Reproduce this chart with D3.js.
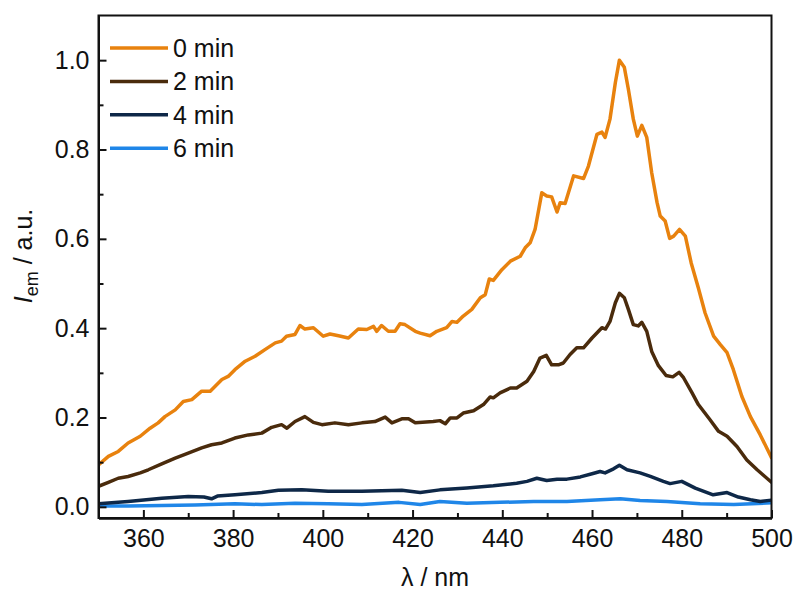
<!DOCTYPE html>
<html>
<head>
<meta charset="utf-8">
<script src="https://cdn.jsdelivr.net/npm/d3@7"></script>
<style>
  html, body { margin: 0; padding: 0; background: #fff; }
  svg { display: block; }
  text { font-family: "Liberation Sans", Arial, sans-serif; fill: #111; }
</style>
</head>
<body>
<svg id="chart" width="795" height="590"></svg>
<script>
// Emission spectra recorded after 0, 2, 4 and 6 min
const seriesNames = ["0 min", "2 min", "4 min", "6 min"];
const seriesColors = ["#E8820E", "#4A2B0C", "#0E2848", "#1F86E8"];

const wl0 = [350,352.2,354.4,356.6,359.3,361.5,363.3,364.8,367.1,368.9,370.8,373.0,374.9,377.5,378.9,380.4,382.7,384.9,387.1,389.4,390.8,391.9,393.8,394.9,396.0,397.9,400.1,401.6,403.5,405.7,407.9,409.8,411.3,412.0,413.1,414.6,416.1,417.2,418.3,420.6,421.7,423.9,425.4,427.6,428.8,429.9,431.3,433.2,435.1,436.2,437.1,438.0,439.9,441.8,444.0,445.1,446.2,447.3,448.8,449.9,451.0,452.2,452.9,454.0,455.9,458.1,459.2,461.1,462.2,462.9,464.0,465.2,466.1,467.2,468.1,469.2,470.1,471.1,472.2,473.3,474.5,475.2,476.3,477.3,478.2,479.5,480.8,482.1,483.7,485.2,487.1,488.6,490.1,491.5,493.4,495.3,497.5,500];
const int0 = [0.094,0.113,0.124,0.143,0.158,0.176,0.188,0.202,0.217,0.236,0.240,0.259,0.259,0.285,0.292,0.307,0.326,0.337,0.352,0.367,0.371,0.382,0.386,0.406,0.398,0.401,0.382,0.387,0.383,0.378,0.398,0.397,0.404,0.393,0.406,0.393,0.393,0.410,0.408,0.393,0.389,0.383,0.393,0.401,0.415,0.413,0.427,0.442,0.468,0.475,0.510,0.507,0.531,0.550,0.561,0.580,0.591,0.621,0.703,0.696,0.694,0.660,0.681,0.679,0.741,0.735,0.763,0.834,0.839,0.827,0.868,0.950,1.000,0.984,0.935,0.868,0.830,0.854,0.827,0.748,0.681,0.651,0.640,0.601,0.606,0.621,0.606,0.546,0.490,0.434,0.382,0.363,0.345,0.307,0.247,0.202,0.161,0.110];

const wl2 = [350,352.2,354.4,356.6,359.3,361.1,364.1,367.1,370.0,373.0,375.2,377.5,380.4,383.4,386.4,388.6,390.8,392.0,393.8,396.0,397.9,399.8,402.7,405.7,408.7,411.6,413.9,415.4,417.6,419.1,420.6,424.6,426.1,427.3,428.4,429.9,431.3,433.6,435.8,437.3,438.0,439.5,441.8,443.2,445.5,447.0,448.4,449.8,451.0,452.5,453.6,455.1,456.6,458.1,460.0,462.2,463.0,464.0,465.2,466.1,467.2,468.1,469.2,470.3,471.1,472.2,473.3,474.8,476.5,478.0,479.4,480.4,482.3,483.7,486.3,488.2,490.1,492.3,494.5,496.8,500];
const int2 = [0.046,0.055,0.064,0.068,0.076,0.083,0.096,0.109,0.120,0.132,0.139,0.143,0.154,0.161,0.165,0.178,0.184,0.176,0.191,0.202,0.189,0.184,0.188,0.184,0.188,0.191,0.201,0.188,0.197,0.197,0.188,0.191,0.193,0.186,0.199,0.199,0.210,0.215,0.229,0.246,0.244,0.255,0.266,0.266,0.281,0.303,0.333,0.339,0.318,0.318,0.322,0.341,0.356,0.356,0.378,0.401,0.398,0.415,0.457,0.478,0.468,0.442,0.408,0.405,0.413,0.393,0.348,0.316,0.294,0.291,0.301,0.289,0.255,0.229,0.195,0.169,0.158,0.135,0.105,0.083,0.055];

const wl4 = [350,356.6,364.1,370.0,373.5,375.2,376.5,380.4,386.4,390.1,395.3,401.2,408.7,417.6,421.7,426.1,432.1,438.0,443.2,445.5,447.7,449.9,452.2,454.4,457.4,460.0,461.8,462.9,464.8,466.1,467.8,470.7,473.0,475.9,477.4,480.0,483.0,487.0,490.1,492.6,495.3,497.5,500];
const int4 = [0.007,0.012,0.019,0.023,0.022,0.018,0.024,0.027,0.032,0.037,0.038,0.035,0.035,0.037,0.032,0.038,0.042,0.047,0.053,0.057,0.064,0.059,0.062,0.062,0.067,0.074,0.079,0.076,0.085,0.093,0.083,0.076,0.068,0.057,0.052,0.057,0.042,0.027,0.032,0.022,0.016,0.012,0.015];

const wl6 = [350,356.6,364.1,371.5,380.4,386.4,393.8,401.2,408.7,417.0,421.7,426.1,432.1,439.5,447.0,454.4,461.8,466.3,470.7,476.7,484.1,491.6,500];
const int6 = [0.002,0.002,0.003,0.004,0.007,0.005,0.008,0.007,0.005,0.010,0.005,0.012,0.008,0.010,0.012,0.012,0.016,0.018,0.014,0.012,0.007,0.005,0.009];

const xMajorTicks = [360, 380, 400, 420, 440, 460, 480, 500];
const xMinorTicks = [370, 390, 410, 430, 450, 470, 490];
const yMajorTicks = [0.0, 0.2, 0.4, 0.6, 0.8, 1.0];
const yMinorTicks = [0.1, 0.3, 0.5, 0.7, 0.9];

const spectra = [
  { name: seriesNames[0], color: seriesColors[0], wl: wl0, val: int0 },
  { name: seriesNames[1], color: seriesColors[1], wl: wl2, val: int2 },
  { name: seriesNames[2], color: seriesColors[2], wl: wl4, val: int4 },
  { name: seriesNames[3], color: seriesColors[3], wl: wl6, val: int6 }
];

const svg = d3.select("#chart");
const plot = { left: 98.5, right: 771.5, top: 15.5, bottom: 518 };

const x = d3.scaleLinear().domain([350, 500]).range([plot.left, plot.right]);
const y = d3.scaleLinear().domain([-0.025, 1.1]).range([plot.bottom, plot.top]);

// clip curves to the frame
svg.append("defs").append("clipPath").attr("id", "plotClip")
  .append("rect")
  .attr("x", plot.left).attr("y", plot.top)
  .attr("width", plot.right - plot.left).attr("height", plot.bottom - plot.top);

const line = d3.line().x(d => x(d[0])).y(d => y(d[1])).curve(d3.curveLinear);

// draw the weakest spectrum first so the strong ones sit on top
const curves = svg.append("g").attr("clip-path", "url(#plotClip)");
spectra.slice().reverse().forEach(s => {
  curves.append("path")
    .datum(s.wl.map((w, i) => [w, s.val[i]]))
    .attr("d", line)
    .attr("fill", "none")
    .attr("stroke", s.color)
    .attr("stroke-width", 3.5)
    .attr("stroke-linejoin", "round")
    .attr("stroke-linecap", "round");
});

// frame
svg.append("rect")
  .attr("x", plot.left).attr("y", plot.top)
  .attr("width", plot.right - plot.left).attr("height", plot.bottom - plot.top)
  .attr("fill", "none").attr("stroke", "#111").attr("stroke-width", 2);

// axes with inward ticks
const fontSize = 25;
const xAxis = svg.append("g").attr("transform", `translate(0,${plot.bottom})`)
  .call(d3.axisBottom(x).tickValues(xMajorTicks).tickSize(-8).tickSizeOuter(0).tickPadding(11).tickFormat(d3.format("d")));
const xMinor = svg.append("g").attr("transform", `translate(0,${plot.bottom})`)
  .call(d3.axisBottom(x).tickValues(xMinorTicks).tickSize(-5).tickSizeOuter(0).tickFormat(""));
const yAxis = svg.append("g").attr("transform", `translate(${plot.left},0)`)
  .call(d3.axisLeft(y).tickValues(yMajorTicks).tickSize(-8).tickSizeOuter(0).tickPadding(9).tickFormat(d3.format(".1f")));
const yMinor = svg.append("g").attr("transform", `translate(${plot.left},0)`)
  .call(d3.axisLeft(y).tickValues(yMinorTicks).tickSize(-5).tickSizeOuter(0).tickFormat(""));

[xAxis, xMinor, yAxis, yMinor].forEach(g => {
  g.select(".domain").attr("stroke", "#111").attr("stroke-width", 2);
  g.selectAll(".tick line").attr("stroke", "#111").attr("stroke-width", 2);
  g.selectAll(".tick text")
    .attr("font-size", fontSize)
    .attr("font-family", "Liberation Sans, Arial, sans-serif")
    .attr("fill", "#111");
});
xAxis.selectAll(".tick text").attr("dy", "0.71em");

// axis titles
svg.append("text")
  .attr("x", (plot.left + plot.right) / 2).attr("y", 586)
  .attr("text-anchor", "middle")
  .attr("font-size", fontSize)
  .text("λ / nm");

const yTitle = svg.append("text")
  .attr("transform", `translate(32,${256}) rotate(-90)`)
  .attr("text-anchor", "middle")
  .attr("font-size", fontSize);
yTitle.append("tspan").attr("font-style", "italic").text("I");
yTitle.append("tspan").attr("font-size", 18).attr("dy", 6).text("em");
yTitle.append("tspan").attr("dy", -6).text(" / a.u.");

// legend
const legend = svg.append("g");
spectra.forEach((s, i) => {
  const ly = 48 + i * 33.4;
  legend.append("line")
    .attr("x1", 110).attr("x2", 168).attr("y1", ly).attr("y2", ly)
    .attr("stroke", s.color).attr("stroke-width", 3.5);
  legend.append("text")
    .attr("x", 173).attr("y", ly).attr("dy", "0.35em")
    .attr("font-size", fontSize)
    .text(s.name);
});
</script>
</body>
</html>
